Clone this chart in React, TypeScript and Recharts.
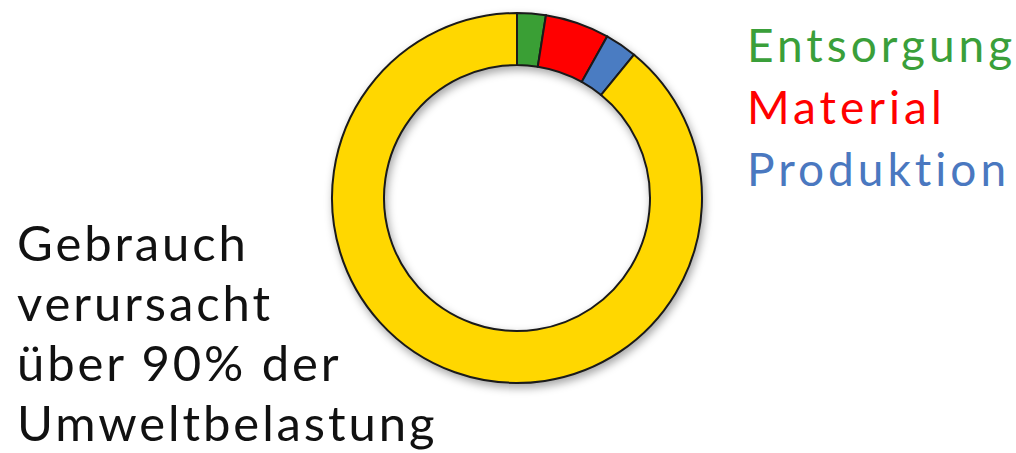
import React from "react";
import { PieChart, Pie, Cell } from "recharts";

const categories = ["Entsorgung", "Material", "Produktion", "Gebrauch"];
const values = [2.5, 5.6, 2.8, 89.1];
const colors = ["#3a9f35", "#ff0000", "#4a7cc2", "#ffd700"];
const legendLabels = ["Entsorgung", "Material", "Produktion"];
const legendColors = ["#3a9f3a", "#ff0000", "#4a78c0"];
const noteLines = ["Gebrauch", "verursacht", "über 90% der", "Umweltbelastung"];

const data = categories.map((name, i) => ({ name, value: values[i] }));

const font = "Lato, 'Open Sans', sans-serif";

export default function App() {
  return (
    <div style={{ position: "absolute", left: 0, top: 0, width: 1016, height: 453, background: "#fff", overflow: "hidden" }}>
      <div style={{ position: "absolute", left: 0, top: 0, filter: "drop-shadow(2px 4px 4px rgba(0,0,0,0.35))" }}>
        <PieChart width={1016} height={453}>
          <Pie
            data={data}
            dataKey="value"
            nameKey="name"
            cx={512}
            cy={193}
            innerRadius={133}
            outerRadius={185}
            startAngle={90}
            endAngle={-270}
            stroke="#1a1a1a"
            strokeWidth={2}
            isAnimationActive={false}
          >
            {data.map((d, i) => (
              <Cell key={d.name} fill={colors[i]} />
            ))}
          </Pie>
        </PieChart>
      </div>
      {legendLabels.map((t, i) => (
        <div
          key={t}
          style={{
            position: "absolute",
            left: 747,
            top: 22 + i * 62,
            fontFamily: font,
            fontSize: 46,
            lineHeight: "46px",
            letterSpacing: 4,
            color: legendColors[i],
            whiteSpace: "nowrap",
          }}
        >
          {t}
        </div>
      ))}
      {noteLines.map((t, i) => (
        <div
          key={t}
          style={{
            position: "absolute",
            left: 17,
            top: 217.5 + i * 60,
            fontFamily: font,
            fontSize: 49,
            lineHeight: "49px",
            letterSpacing: 2.9,
            color: "#111",
            whiteSpace: "nowrap",
          }}
        >
          {t}
        </div>
      ))}
    </div>
  );
}
